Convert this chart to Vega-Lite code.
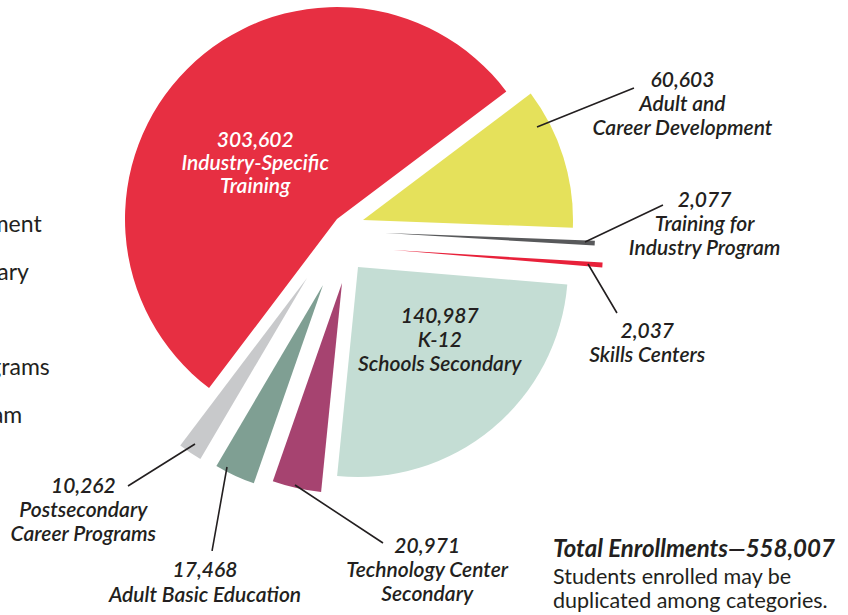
{
  "$schema": "https://vega.github.io/schema/vega-lite/v6.json",
  "width": 690,
  "height": 490,
  "autosize": {"type": "none"},
  "padding": {"left": 0, "top": 0, "right": 158, "bottom": 125},
  "config": {"font": "Lato", "view": {"stroke": null}},
  "title": {
    "text": "Total Enrollments—558,007",
    "subtitle": ["Students enrolled may be", "duplicated among categories."],
    "orient": "bottom", "anchor": "start", "frame": "group", "dx": 553, "offset": -124,
    "font": "Lato", "fontSize": 24, "fontStyle": "italic", "fontWeight": "bold", "color": "#231f20",
    "subtitleFont": "Lato", "subtitleFontSize": 21.5, "subtitleColor": "#231f20", "subtitlePadding": 5, "subtitleLineHeight": 24
  },
  "data": {"values": [
    {"i": 1, "name": "Adult and Career Development", "value": 60603, "label": "60,603\nAdult and\nCareer Development"},
    {"i": 2, "name": "Training for Industry Program", "value": 2077, "label": "2,077\nTraining for\nIndustry Program"},
    {"i": 3, "name": "Skills Centers", "value": 2037, "label": "2,037\nSkills Centers"},
    {"i": 4, "name": "K-12 Schools Secondary", "value": 140987, "label": "140,987\nK-12\nSchools Secondary"},
    {"i": 5, "name": "Technology Center Secondary", "value": 20971, "label": "20,971\nTechnology Center\nSecondary"},
    {"i": 6, "name": "Adult Basic Education", "value": 17468, "label": "17,468\nAdult Basic Education"},
    {"i": 7, "name": "Postsecondary Career Programs", "value": 10262, "label": "10,262\nPostsecondary\nCareer Programs"},
    {"i": 8, "name": "Industry-Specific Training", "value": 303602, "label": "303,602\nIndustry-Specific\nTraining"}
  ]},
  "encoding": {
    "theta": {"field": "value", "type": "quantitative", "stack": true, "scale": {"range": [0.925, 7.2082]}},
    "order": {"field": "i", "type": "quantitative"}
  },
  "layer": [
    {"mark": {"type": "arc", "radius": 212, "xOffset": -8, "yOffset": -26},
     "encoding": {"color": {"field": "name", "type": "nominal",
        "scale": {"domain": ["Industry-Specific Training","Adult and Career Development","Training for Industry Program","Skills Centers","K-12 Schools Secondary","Technology Center Secondary","Adult Basic Education","Postsecondary Career Programs"],
                  "range": ["#e72f42","#e5e15b","#58595b","#e8213a","#c4ddd4","#a64370","#7f9f93","#c8c9cb"]},
        "legend": {"orient": "none", "legendX": -304, "legendY": 166, "title": null,
          "values": ["Industry-Specific Training","Adult and Career Development","Technology Center Secondary","K-12 Schools Secondary","Postsecondary Career Programs","Training for Industry Program","Adult Basic Education","Skills Centers"],
          "labelFont": "Lato", "labelFontSize": 23, "labelColor": "#231f20", "labelLimit": 0,
          "symbolType": "square", "symbolSize": 400, "rowPadding": 23.6, "labelOffset": 10}},
      "opacity": {"condition": {"test": "datum.name === 'Industry-Specific Training'", "value": 1}, "value": 0}}},
    {"mark": {"type": "arc", "radius": 210, "xOffset": 18, "yOffset": -25},
     "encoding": {"color": {"field": "name", "type": "nominal"},
      "opacity": {"condition": {"test": "datum.name === 'Adult and Career Development'", "value": 1}, "value": 0}}},
    {"mark": {"type": "arc", "radius": 210, "xOffset": 40, "yOffset": -12},
     "encoding": {"color": {"field": "name", "type": "nominal"},
      "opacity": {"condition": {"test": "datum.name === 'Training for Industry Program'", "value": 1}, "value": 0}}},
    {"mark": {"type": "arc", "radius": 210, "xOffset": 48, "yOffset": 5},
     "encoding": {"color": {"field": "name", "type": "nominal"},
      "opacity": {"condition": {"test": "datum.name === 'Skills Centers'", "value": 1}, "value": 0}}},
    {"mark": {"type": "arc", "radius": 210, "xOffset": 13, "yOffset": 22},
     "encoding": {"color": {"field": "name", "type": "nominal"},
      "opacity": {"condition": {"test": "datum.name === 'K-12 Schools Secondary'", "value": 1}, "value": 0}}},
    {"mark": {"type": "arc", "radius": 210, "xOffset": -3, "yOffset": 38},
     "encoding": {"color": {"field": "name", "type": "nominal"},
      "opacity": {"condition": {"test": "datum.name === 'Technology Center Secondary'", "value": 1}, "value": 0}}},
    {"mark": {"type": "arc", "radius": 210, "xOffset": -22, "yOffset": 40},
     "encoding": {"color": {"field": "name", "type": "nominal"},
      "opacity": {"condition": {"test": "datum.name === 'Adult Basic Education'", "value": 1}, "value": 0}}},
    {"mark": {"type": "arc", "radius": 210, "xOffset": -38, "yOffset": 33},
     "encoding": {"color": {"field": "name", "type": "nominal"},
      "opacity": {"condition": {"test": "datum.name === 'Postsecondary Career Programs'", "value": 1}, "value": 0}}},

    {"mark": {"type": "arc", "filled": false, "stroke": "#231f20", "strokeWidth": 1.6, "padAngle": 3.14, "radius": 104.5, "xOffset": 192, "yOffset": -118, "thetaOffset": -0.0777, "theta2Offset": -0.0777},
     "encoding": {"opacity": {"condition": {"test": "datum.name === 'Adult and Career Development'", "value": 1}, "value": 0}}},
    {"mark": {"type": "arc", "filled": false, "stroke": "#231f20", "strokeWidth": 1.6, "padAngle": 3.14, "radius": 86.3, "xOffset": 240, "yOffset": -3, "thetaOffset": -0.4917, "theta2Offset": -0.4917},
     "encoding": {"opacity": {"condition": {"test": "datum.name === 'Training for Industry Program'", "value": 1}, "value": 0}}},
    {"mark": {"type": "arc", "filled": false, "stroke": "#231f20", "strokeWidth": 1.6, "padAngle": 3.14, "radius": 56.9, "xOffset": 243, "yOffset": 19, "thetaOffset": 0.965, "theta2Offset": 0.965},
     "encoding": {"opacity": {"condition": {"test": "datum.name === 'Skills Centers'", "value": 1}, "value": 0}}},
    {"mark": {"type": "arc", "filled": false, "stroke": "#231f20", "strokeWidth": 1.6, "padAngle": 3.14, "radius": 105.4, "xOffset": -50, "yOffset": 240, "thetaOffset": -1.2057, "theta2Offset": -1.2057},
     "encoding": {"opacity": {"condition": {"test": "datum.name === 'Technology Center Secondary'", "value": 1}, "value": 0}}},
    {"mark": {"type": "arc", "filled": false, "stroke": "#231f20", "strokeWidth": 1.6, "padAngle": 3.14, "radius": 85.3, "xOffset": -118, "yOffset": 222, "thetaOffset": -0.258, "theta2Offset": -0.258},
     "encoding": {"opacity": {"condition": {"test": "datum.name === 'Adult Basic Education'", "value": 1}, "value": 0}}},
    {"mark": {"type": "arc", "filled": false, "stroke": "#231f20", "strokeWidth": 1.6, "padAngle": 3.14, "radius": 79.1, "xOffset": -150, "yOffset": 199, "thetaOffset": 0.4203, "theta2Offset": 0.4203},
     "encoding": {"opacity": {"condition": {"test": "datum.name === 'Postsecondary Career Programs'", "value": 1}, "value": 0}}},

    {"mark": {"type": "text", "radius": 130, "dx": 2, "dy": -6, "font": "Lato", "fontSize": 21, "fontStyle": "italic", "fontWeight": 600, "lineBreak": "\n", "lineHeight": 23, "align": "center", "baseline": "alphabetic", "color": "#ffffff"},
     "encoding": {"text": {"field": "label"}, "opacity": {"condition": {"test": "datum.name === 'Industry-Specific Training'", "value": 1}, "value": 0}}},
    {"mark": {"type": "text", "radius": 360, "dx": -6, "dy": -50, "font": "Lato", "fontSize": 21, "fontStyle": "italic", "fontWeight": 600, "lineBreak": "\n", "lineHeight": 24, "align": "center", "baseline": "alphabetic", "color": "#231f20"},
     "encoding": {"text": {"field": "label"}, "opacity": {"condition": {"test": "datum.name === 'Adult and Career Development'", "value": 1}, "value": 0}}},
    {"mark": {"type": "text", "radius": 360, "dx": 0, "dy": -55, "font": "Lato", "fontSize": 21, "fontStyle": "italic", "fontWeight": 600, "lineBreak": "\n", "lineHeight": 24, "align": "center", "baseline": "alphabetic", "color": "#231f20"},
     "encoding": {"text": {"field": "label"}, "opacity": {"condition": {"test": "datum.name === 'Training for Industry Program'", "value": 1}, "value": 0}}},
    {"mark": {"type": "text", "radius": 300, "dx": 3, "dy": 72, "font": "Lato", "fontSize": 21, "fontStyle": "italic", "fontWeight": 600, "lineBreak": "\n", "lineHeight": 24, "align": "center", "baseline": "alphabetic", "color": "#231f20"},
     "encoding": {"text": {"field": "label"}, "opacity": {"condition": {"test": "datum.name === 'Skills Centers'", "value": 1}, "value": 0}}},
    {"mark": {"type": "text", "radius": 120, "dx": 18, "dy": -14, "font": "Lato", "fontSize": 21, "fontStyle": "italic", "fontWeight": 600, "lineBreak": "\n", "lineHeight": 24, "align": "center", "baseline": "alphabetic", "color": "#231f20"},
     "encoding": {"text": {"field": "label"}, "opacity": {"condition": {"test": "datum.name === 'K-12 Schools Secondary'", "value": 1}, "value": 0}}},
    {"mark": {"type": "text", "radius": 300, "dx": 147, "dy": 15, "font": "Lato", "fontSize": 21, "fontStyle": "italic", "fontWeight": 600, "lineBreak": "\n", "lineHeight": 24, "align": "center", "baseline": "alphabetic", "color": "#231f20"},
     "encoding": {"text": {"field": "label"}, "opacity": {"condition": {"test": "datum.name === 'Technology Center Secondary'", "value": 1}, "value": 0}}},
    {"mark": {"type": "text", "radius": 340, "dx": 3, "dy": 24, "font": "Lato", "fontSize": 21, "fontStyle": "italic", "fontWeight": 600, "lineBreak": "\n", "lineHeight": 25, "align": "center", "baseline": "alphabetic", "color": "#231f20"},
     "encoding": {"text": {"field": "label"}, "opacity": {"condition": {"test": "datum.name === 'Adult Basic Education'", "value": 1}, "value": 0}}},
    {"mark": {"type": "text", "radius": 330, "dx": -78, "dy": -26, "font": "Lato", "fontSize": 21, "fontStyle": "italic", "fontWeight": 600, "lineBreak": "\n", "lineHeight": 24, "align": "center", "baseline": "alphabetic", "color": "#231f20"},
     "encoding": {"text": {"field": "label"}, "opacity": {"condition": {"test": "datum.name === 'Postsecondary Career Programs'", "value": 1}, "value": 0}}}
  ]
}
